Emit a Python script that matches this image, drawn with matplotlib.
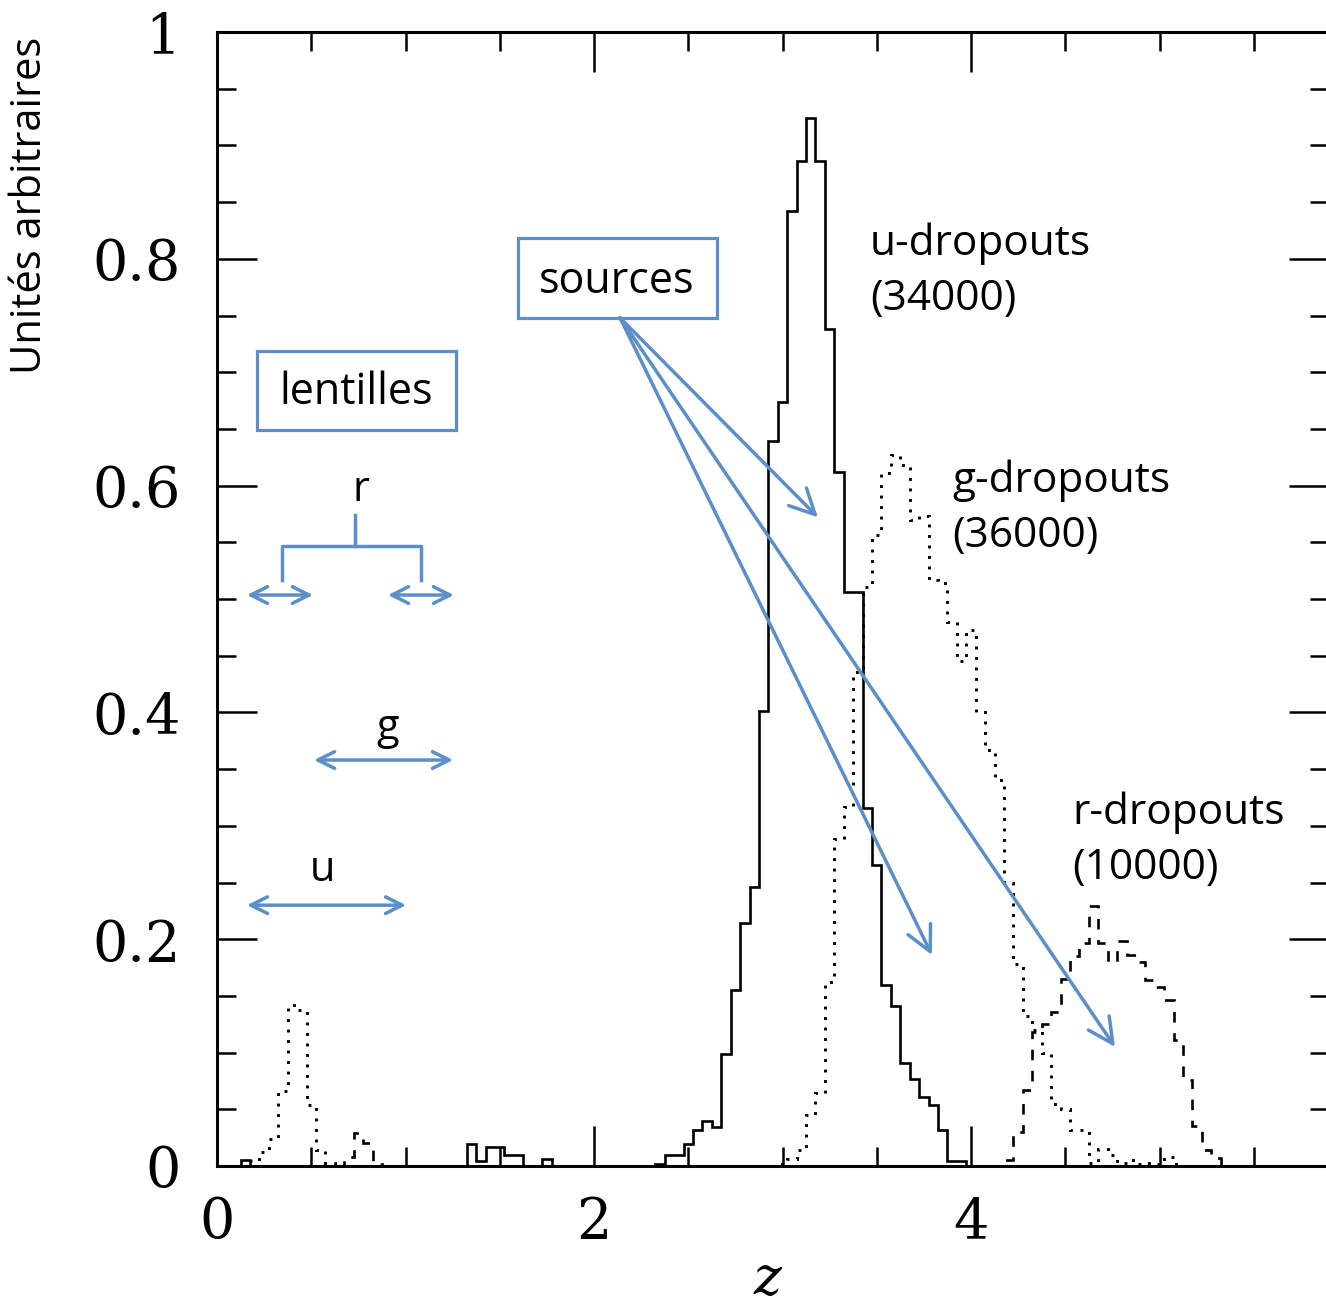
import numpy as np
import matplotlib
matplotlib.use("Agg")
from matplotlib import pyplot as plt
from matplotlib.patches import Rectangle
from matplotlib.ticker import MultipleLocator, FixedLocator, FixedFormatter

# histogram bins: width 0.05, centred on multiples of 0.05
bin_w = 0.05
z_max = 5.9

# u-dropouts (solid), segments given as (first bin centre, heights)
u_low_start = 0.15
u_low = [0.005]
u_mid_start = 1.35
u_mid = [0.019, 0.004, 0.017, 0.017, 0.010, 0.010, 0.0, 0.0, 0.006]
u_main_start = 2.35
u_main = [0.002, 0.010, 0.010, 0.019, 0.032, 0.040, 0.034, 0.099, 0.155, 0.214,
          0.246, 0.401, 0.639, 0.674, 0.842, 0.886, 0.924, 0.886, 0.738, 0.612,
          0.506, 0.506, 0.316, 0.265, 0.160, 0.141, 0.091, 0.077, 0.061, 0.054,
          0.032, 0.004, 0.004]

# g-dropouts (dotted)
g_low_start = 0.20
g_low = [0.004, 0.012, 0.024, 0.066, 0.142, 0.138, 0.054, 0.014, 0.003]
g_main_start = 3.00
g_main = [0.002, 0.006, 0.014, 0.045, 0.064, 0.162, 0.288, 0.317, 0.436, 0.511,
          0.556, 0.611, 0.627, 0.618, 0.570, 0.573, 0.517, 0.514, 0.480, 0.445,
          0.473, 0.400, 0.367, 0.340, 0.250, 0.178, 0.132, 0.120, 0.100, 0.055,
          0.050, 0.032, 0.032, 0.003, 0.015, 0.010, 0.003, 0.005, 0.002, 0.003,
          0.002, 0.008, 0.002]

# r-dropouts (dashed)
r_low_start = 0.70
r_low = [0.008, 0.029, 0.020, 0.002]
r_main_start = 4.20
r_main = [0.005, 0.030, 0.067, 0.118, 0.125, 0.136, 0.165, 0.185, 0.197, 0.229,
          0.197, 0.180, 0.198, 0.186, 0.180, 0.164, 0.158, 0.146, 0.111, 0.076,
          0.035, 0.014, 0.007, 0.002]

y_ticks = [0, 0.2, 0.4, 0.6, 0.8, 1.0]
y_labels = ["0", "0.2", "0.4", "0.6", "0.8", "1"]
x_ticks = [0, 2, 4]
x_labels = ["0", "2", "4"]

n_bins = int(round(z_max / bin_w)) + 1
edges = (np.arange(n_bins + 1) - 0.5) * bin_w


def full_hist(*segments):
    h = np.zeros(n_bins)
    for start, vals in segments:
        i0 = int(round(start / bin_w))
        h[i0:i0 + len(vals)] = vals
    return h


u_hist = full_hist((u_low_start, u_low), (u_mid_start, u_mid), (u_main_start, u_main))
g_hist = full_hist((g_low_start, g_low), (g_main_start, g_main))
r_hist = full_hist((r_low_start, r_low), (r_main_start, r_main))

blue = "#5B8FC9"
sans = ["Open Sans", "DejaVu Sans"]
serif = ["DejaVu Serif"]

fig = plt.figure(figsize=(13.26, 13.08), dpi=100)
ax = fig.add_axes([217 / 1326, 142 / 1308, z_max * 188.5 / 1326, 1134 / 1308])

ax.stairs(g_hist, edges, color="black", lw=2.1, linestyle=(0, (1, 2.6)), baseline=0)
ax.stairs(r_hist, edges, color="black", lw=1.9, linestyle=(0, (4, 4)), baseline=0)
ax.stairs(u_hist, edges, color="black", lw=1.9, baseline=0)

ax.set_xlim(0, z_max)
ax.set_ylim(0, 1)

ax.xaxis.set_major_locator(FixedLocator(x_ticks))
ax.xaxis.set_major_formatter(FixedFormatter(x_labels))
ax.xaxis.set_minor_locator(MultipleLocator(0.5))
ax.yaxis.set_major_locator(FixedLocator(y_ticks))
ax.yaxis.set_major_formatter(FixedFormatter(y_labels))
ax.yaxis.set_minor_locator(MultipleLocator(0.05))
ax.tick_params(which="both", direction="in", top=True, right=True, width=1.8)
ax.tick_params(which="major", length=29)
ax.tick_params(which="minor", length=14)
ax.tick_params(axis="y", which="major", pad=26, labelsize=40)
ax.tick_params(axis="x", which="major", pad=21, labelsize=40)
for lab in ax.get_xticklabels() + ax.get_yticklabels():
    lab.set_family(serif)
for sp in ax.spines.values():
    sp.set_linewidth(2.2)

fig.text(767 / 1326, 1 - 1294 / 1308, "z", family=serif, style="italic",
         fontsize=38, ha="center", va="baseline")
fig.text(30 / 1326, 1 - 205 / 1308, "Unités arbitraires", family=sans,
         fontsize=30, rotation=90, ha="center", va="center")

# boxes
ax.add_patch(Rectangle((1.597, 0.748), 1.056, 0.070, fill=False, ec=blue, lw=2.3))
ax.text(2.122, 0.7795, "sources", family=sans, fontsize=31, ha="center", va="center")
ax.add_patch(Rectangle((0.212, 0.649), 1.056, 0.0697, fill=False, ec=blue, lw=2.3))
ax.text(0.740, 0.682, "lentilles", family=sans, fontsize=31, ha="center", va="center")

# arrows from the sources box
for end in [(3.188, 0.572), (3.793, 0.186), (4.764, 0.105)]:
    ax.annotate("", xy=end, xytext=(2.138, 0.748),
                arrowprops=dict(arrowstyle="->", color=blue, lw=2.5,
                                mutation_scale=45, shrinkA=0, shrinkB=0))

# lens filter ranges
for (z0, z1, y) in [(0.159, 0.509, 0.5035), (0.907, 1.257, 0.5035),
                    (0.515, 1.252, 0.358), (0.159, 1.003, 0.230)]:
    ax.annotate("", xy=(z1, y), xytext=(z0, y),
                arrowprops=dict(arrowstyle="<->", color=blue, lw=2.5,
                                mutation_scale=30, shrinkA=0, shrinkB=0))
ax.plot([0.345, 0.345, 1.082, 1.082], [0.517, 0.547, 0.547, 0.517], color=blue, lw=2.5)
ax.plot([0.732, 0.732], [0.547, 0.574], color=blue, lw=2.5)
ax.text(0.764, 0.596, "r", family=sans, fontsize=30, ha="center", va="center")
ax.text(0.907, 0.386, "g", family=sans, fontsize=30, ha="center", va="center")
ax.text(0.562, 0.261, "u", family=sans, fontsize=30, ha="center", va="center")

# dropout labels
ax.text(3.464, 0.789, "u-dropouts\n(34000)", family=sans, fontsize=30.5,
        ha="left", va="center", linespacing=1.4)
ax.text(3.899, 0.580, "g-dropouts\n(36000)", family=sans, fontsize=30.5,
        ha="left", va="center", linespacing=1.4)
ax.text(4.536, 0.2875, "r-dropouts\n(10000)", family=sans, fontsize=30.5,
        ha="left", va="center", linespacing=1.4)

fig.savefig("out.png", dpi=100)
